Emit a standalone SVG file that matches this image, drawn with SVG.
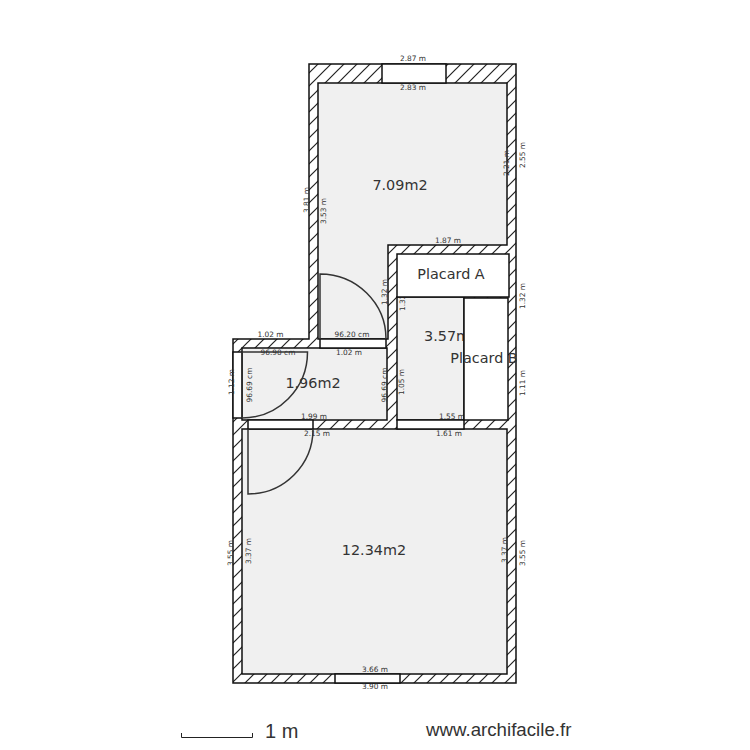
<svg xmlns="http://www.w3.org/2000/svg" width="750" height="750" viewBox="0 0 750 750">
<style>
.room{fill:#f0f0f0;stroke:#111;stroke-width:1.5}
.open{fill:#fff;stroke:#111;stroke-width:1.5}
.door{fill:none;stroke:#333;stroke-width:1.5}
text{font-family:"DejaVu Sans",Verdana,sans-serif;fill:#333}
.d{font-size:7.4px;text-anchor:middle}
.a{font-size:14.4px;text-anchor:middle}
.s{font-family:"Liberation Sans",Arial,sans-serif;fill:#333}
</style>
<defs>
<pattern id="hatch" patternUnits="userSpaceOnUse" width="13" height="13" x="1" y="4">
<rect width="13" height="13" fill="#fff"/>
<path d="M-2,15 L15,-2 M-2,2 L2,-2 M11,15 L15,11" stroke="#222" stroke-width="1.2" fill="none"/>
</pattern>
</defs>
<rect width="750" height="750" fill="#fff"/>
<g id="walls">
<path d="M309,64H516V683H233V339H309Z" fill="url(#hatch)" stroke="#111" stroke-width="1.5"/>
</g>
<g id="rooms">
<path class="room" d="M318,83H507V245H388V339H318Z"/>
<rect class="room" x="242" y="348" width="145" height="72"/>
<rect class="room" x="242" y="429" width="265" height="245"/>
<rect class="room" x="397" y="297" width="67" height="123"/>
</g>
<g id="openings">
<rect class="open" x="382" y="64" width="64" height="19"/>
<rect class="open" x="335" y="674" width="65" height="9"/>
<rect class="open" x="320" y="339" width="66" height="9"/>
<rect class="open" x="233" y="352" width="9" height="66"/>
<rect class="open" x="248" y="420" width="65" height="9"/>
<rect class="open" x="397" y="420" width="67" height="9"/>
</g>
<g id="doors">
<path class="door" d="M320,339V274A66,65 0 0 1 386,339"/>
<path class="door" d="M242,418V352H307.500A65.500,66 0 0 1 242,418"/>
<path class="door" d="M248,429V494A65,65 0 0 0 313,429"/>
</g>
<g id="labels">
<text class="d" x="413" y="61">2.87 m</text>
<text class="d" x="413" y="90">2.83 m</text>
<text class="d" x="448" y="243">1.87 m</text>
<text class="d" transform="translate(308.500,200) rotate(-90)">3.81 m</text>
<text class="d" transform="translate(325.500,211) rotate(-90)">3.53 m</text>
<text class="d" transform="translate(508.500,163) rotate(-90)">2.21 m</text>
<text class="d" transform="translate(524.500,155) rotate(-90)">2.55 m</text>
<text class="d" transform="translate(386.500,292) rotate(-90)">1.32 m</text>
<text class="d" transform="translate(404.500,298) rotate(-90)">1.32 m</text>
<text class="d" transform="translate(524.500,296) rotate(-90)">1.32 m</text>
<text class="d" x="270.500" y="337">1.02 m</text>
<text class="d" x="352" y="337">96.20 cm</text>
<text class="d" x="278" y="355">96.90 cm</text>
<text class="d" x="349" y="355">1.02 m</text>
<text class="d" transform="translate(233.500,382) rotate(-90)">1.12 m</text>
<text class="d" transform="translate(251.500,385) rotate(-90)">96.69 cm</text>
<text class="d" transform="translate(386.500,385) rotate(-90)">96.69 cm</text>
<text class="d" transform="translate(404,382) rotate(-90)">1.05 m</text>
<text class="d" transform="translate(524.500,383) rotate(-90)">1.11 m</text>
<text class="d" x="314" y="419">1.99 m</text>
<text class="d" x="317" y="436">2.15 m</text>
<text class="d" x="452" y="419">1.55 m</text>
<text class="d" x="449" y="436">1.61 m</text>
<text class="d" transform="translate(232.500,553) rotate(-90)">3.55 m</text>
<text class="d" transform="translate(250.500,551) rotate(-90)">3.37 m</text>
<text class="d" transform="translate(506.500,550) rotate(-90)">3.37 m</text>
<text class="d" transform="translate(524.500,553) rotate(-90)">3.55 m</text>
<text class="d" x="375" y="672">3.66 m</text>
<text class="d" x="375" y="689">3.90 m</text>
<text class="a" x="400" y="190">7.09m2</text>
<text class="a" x="313" y="388">1.96m2</text>
<text class="a" x="374" y="555">12.34m2</text>
<text class="a" x="424" y="341" style="text-anchor:start">3.57m2</text>
</g>
<g id="placard-a">
<rect class="open" x="397" y="254" width="112" height="43"/>
<text class="a" x="451" y="279">Placard A</text>
</g>
<g id="placard-b">
<rect class="open" x="464" y="298" width="44" height="122"/>
<text class="a" x="484" y="363">Placard B</text>
</g>
<g id="scale">
<path d="M181.500,733V737.500H252.500V733" fill="none" stroke="#222" stroke-width="1"/>
<text class="s" x="265" y="738" font-size="20">1 m</text>
<text class="s" x="426" y="736" font-size="18.700">www.archifacile.fr</text>
</g>
</svg>
